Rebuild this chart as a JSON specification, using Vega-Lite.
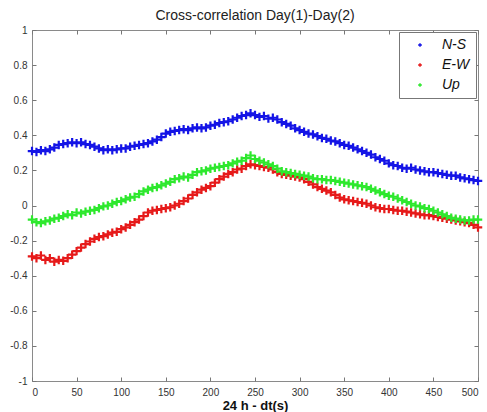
{
  "$schema": "https://vega.github.io/schema/vega-lite/v6.json",
  "width": 446,
  "height": 351,
  "autosize": {"type": "none"},
  "padding": {"left": 32, "top": 30, "right": 9, "bottom": 31},
  "background": "white",
  "title": {"text": "Cross-correlation Day(1)-Day(2)", "fontSize": 14, "fontWeight": "normal", "font": "Liberation Sans", "color": "#222", "offset": 2, "anchor": "middle"},
  "config": {"view": {"stroke": "#8a8a8a", "strokeWidth": 1}, "font": "Liberation Sans"},
  "data": {"values": [
    {"x": 0, "ns": 0.31, "ew": -0.29, "up": -0.08},
    {"x": 5, "ns": 0.305, "ew": -0.3, "up": -0.095},
    {"x": 10, "ns": 0.315, "ew": -0.285, "up": -0.1},
    {"x": 15, "ns": 0.31, "ew": -0.31, "up": -0.09},
    {"x": 20, "ns": 0.32, "ew": -0.3, "up": -0.085},
    {"x": 25, "ns": 0.33, "ew": -0.32, "up": -0.075},
    {"x": 30, "ns": 0.345, "ew": -0.31, "up": -0.07},
    {"x": 35, "ns": 0.35, "ew": -0.315, "up": -0.06},
    {"x": 40, "ns": 0.355, "ew": -0.3, "up": -0.05},
    {"x": 45, "ns": 0.36, "ew": -0.28, "up": -0.055},
    {"x": 50, "ns": 0.355, "ew": -0.26, "up": -0.04},
    {"x": 55, "ns": 0.36, "ew": -0.24, "up": -0.045},
    {"x": 60, "ns": 0.35, "ew": -0.22, "up": -0.035},
    {"x": 65, "ns": 0.345, "ew": -0.205, "up": -0.03},
    {"x": 70, "ns": 0.335, "ew": -0.19, "up": -0.025},
    {"x": 75, "ns": 0.325, "ew": -0.18, "up": -0.015},
    {"x": 80, "ns": 0.315, "ew": -0.175, "up": -0.005},
    {"x": 85, "ns": 0.32, "ew": -0.165, "up": 0.0},
    {"x": 90, "ns": 0.315, "ew": -0.155, "up": 0.01},
    {"x": 95, "ns": 0.32, "ew": -0.15, "up": 0.02},
    {"x": 100, "ns": 0.325, "ew": -0.135, "up": 0.025},
    {"x": 105, "ns": 0.325, "ew": -0.125, "up": 0.035},
    {"x": 110, "ns": 0.335, "ew": -0.11, "up": 0.045},
    {"x": 115, "ns": 0.34, "ew": -0.095, "up": 0.05},
    {"x": 120, "ns": 0.345, "ew": -0.08, "up": 0.065},
    {"x": 125, "ns": 0.35, "ew": -0.06, "up": 0.08},
    {"x": 130, "ns": 0.355, "ew": -0.04, "up": 0.09},
    {"x": 135, "ns": 0.365, "ew": -0.03, "up": 0.1},
    {"x": 140, "ns": 0.375, "ew": -0.025, "up": 0.105},
    {"x": 145, "ns": 0.39, "ew": -0.02, "up": 0.115},
    {"x": 150, "ns": 0.41, "ew": -0.015, "up": 0.125},
    {"x": 155, "ns": 0.42, "ew": -0.01, "up": 0.135},
    {"x": 160, "ns": 0.425, "ew": 0.0, "up": 0.15},
    {"x": 165, "ns": 0.43, "ew": 0.01, "up": 0.155},
    {"x": 170, "ns": 0.435, "ew": 0.025, "up": 0.165},
    {"x": 175, "ns": 0.43, "ew": 0.04, "up": 0.16},
    {"x": 180, "ns": 0.44, "ew": 0.06, "up": 0.175},
    {"x": 185, "ns": 0.445, "ew": 0.075, "up": 0.19},
    {"x": 190, "ns": 0.44, "ew": 0.09, "up": 0.195},
    {"x": 195, "ns": 0.445, "ew": 0.1, "up": 0.2},
    {"x": 200, "ns": 0.455, "ew": 0.11, "up": 0.21},
    {"x": 205, "ns": 0.46, "ew": 0.13, "up": 0.215},
    {"x": 210, "ns": 0.47, "ew": 0.15, "up": 0.22},
    {"x": 215, "ns": 0.475, "ew": 0.165, "up": 0.225},
    {"x": 220, "ns": 0.48, "ew": 0.18, "up": 0.23},
    {"x": 225, "ns": 0.49, "ew": 0.19, "up": 0.24},
    {"x": 230, "ns": 0.5, "ew": 0.205, "up": 0.25},
    {"x": 235, "ns": 0.51, "ew": 0.21, "up": 0.255},
    {"x": 240, "ns": 0.515, "ew": 0.225, "up": 0.27},
    {"x": 245, "ns": 0.525, "ew": 0.235, "up": 0.285},
    {"x": 250, "ns": 0.515, "ew": 0.23, "up": 0.265},
    {"x": 255, "ns": 0.505, "ew": 0.225, "up": 0.255},
    {"x": 260, "ns": 0.51, "ew": 0.22, "up": 0.245},
    {"x": 265, "ns": 0.495, "ew": 0.215, "up": 0.235},
    {"x": 270, "ns": 0.5, "ew": 0.205, "up": 0.225},
    {"x": 275, "ns": 0.49, "ew": 0.19, "up": 0.21},
    {"x": 280, "ns": 0.475, "ew": 0.18, "up": 0.195},
    {"x": 285, "ns": 0.465, "ew": 0.175, "up": 0.19},
    {"x": 290, "ns": 0.455, "ew": 0.17, "up": 0.185},
    {"x": 295, "ns": 0.44, "ew": 0.165, "up": 0.18},
    {"x": 300, "ns": 0.43, "ew": 0.16, "up": 0.175},
    {"x": 305, "ns": 0.42, "ew": 0.15, "up": 0.17},
    {"x": 310, "ns": 0.41, "ew": 0.135, "up": 0.165},
    {"x": 315, "ns": 0.405, "ew": 0.12, "up": 0.155},
    {"x": 320, "ns": 0.395, "ew": 0.105, "up": 0.15},
    {"x": 325, "ns": 0.385, "ew": 0.095, "up": 0.15},
    {"x": 330, "ns": 0.38, "ew": 0.085, "up": 0.145},
    {"x": 335, "ns": 0.37, "ew": 0.075, "up": 0.145},
    {"x": 340, "ns": 0.365, "ew": 0.06, "up": 0.14},
    {"x": 345, "ns": 0.355, "ew": 0.045, "up": 0.135},
    {"x": 350, "ns": 0.345, "ew": 0.035, "up": 0.13},
    {"x": 355, "ns": 0.34, "ew": 0.03, "up": 0.125},
    {"x": 360, "ns": 0.33, "ew": 0.025, "up": 0.12},
    {"x": 365, "ns": 0.32, "ew": 0.02, "up": 0.115},
    {"x": 370, "ns": 0.31, "ew": 0.015, "up": 0.11},
    {"x": 375, "ns": 0.3, "ew": 0.01, "up": 0.105},
    {"x": 380, "ns": 0.29, "ew": 0.0, "up": 0.095},
    {"x": 385, "ns": 0.275, "ew": -0.01, "up": 0.085},
    {"x": 390, "ns": 0.265, "ew": -0.015, "up": 0.075},
    {"x": 395, "ns": 0.255, "ew": -0.02, "up": 0.065},
    {"x": 400, "ns": 0.24, "ew": -0.02, "up": 0.055},
    {"x": 405, "ns": 0.23, "ew": -0.025, "up": 0.05},
    {"x": 410, "ns": 0.225, "ew": -0.03, "up": 0.04},
    {"x": 415, "ns": 0.215, "ew": -0.03, "up": 0.03},
    {"x": 420, "ns": 0.21, "ew": -0.035, "up": 0.02},
    {"x": 425, "ns": 0.215, "ew": -0.04, "up": 0.01},
    {"x": 430, "ns": 0.205, "ew": -0.045, "up": 0.0},
    {"x": 435, "ns": 0.2, "ew": -0.05, "up": -0.005},
    {"x": 440, "ns": 0.195, "ew": -0.055, "up": -0.015},
    {"x": 445, "ns": 0.19, "ew": -0.055, "up": -0.02},
    {"x": 450, "ns": 0.19, "ew": -0.06, "up": -0.03},
    {"x": 455, "ns": 0.185, "ew": -0.065, "up": -0.04},
    {"x": 460, "ns": 0.18, "ew": -0.07, "up": -0.05},
    {"x": 465, "ns": 0.175, "ew": -0.075, "up": -0.06},
    {"x": 470, "ns": 0.17, "ew": -0.08, "up": -0.07},
    {"x": 475, "ns": 0.17, "ew": -0.085, "up": -0.075},
    {"x": 480, "ns": 0.16, "ew": -0.09, "up": -0.08},
    {"x": 485, "ns": 0.155, "ew": -0.095, "up": -0.085},
    {"x": 490, "ns": 0.15, "ew": -0.1, "up": -0.085},
    {"x": 495, "ns": 0.145, "ew": -0.11, "up": -0.08},
    {"x": 500, "ns": 0.14, "ew": -0.125, "up": -0.08}
  ]},
  "transform": [{"fold": ["ns", "ew", "up"], "as": ["series", "value"]}],
  "layer": [
    {
      "mark": {"type": "point", "shape": "M-1,0H1M0,-1V1", "filled": false, "size": 72, "strokeWidth": 2.2, "opacity": 1},
      "encoding": {
        "x": {"field": "x", "type": "quantitative", "scale": {"domain": [0, 500], "nice": false},
          "axis": {"orient": "bottom", "values": [0, 50, 100, 150, 200, 250, 300, 350, 400, 450, 500], "grid": false, "domain": false, "tickSize": -4, "tickColor": "#777", "labelFontSize": 10, "labelColor": "#333", "labelPadding": 10, "labelFont": "Liberation Sans", "title": "24 h - dt(s)", "titleFontSize": 13, "titleFontWeight": "bold", "titleColor": "#111", "titlePadding": 2, "titleFont": "Liberation Sans"}},
        "y": {"field": "value", "type": "quantitative", "scale": {"domain": [-1, 1], "nice": false},
          "axis": {"orient": "left", "values": [-1, -0.8, -0.6, -0.4, -0.2, 0, 0.2, 0.4, 0.6, 0.8, 1], "labelExpr": "'' + datum.value", "grid": false, "domain": false, "tickSize": -4, "tickColor": "#777", "labelFontSize": 10, "labelColor": "#333", "labelPadding": 9, "labelFont": "Liberation Sans", "title": null}},
        "color": {"field": "series", "type": "nominal",
          "scale": {"domain": ["ns", "ew", "up"], "range": ["#1414e6", "#e61a1a", "#2ee82e"]},
          "legend": {"orient": "top-right", "offset": 2, "title": null, "labelExpr": "datum.value == 'ns' ? 'N-S' : datum.value == 'ew' ? 'E-W' : 'Up'", "labelFontSize": 14, "labelFontStyle": "italic", "labelFont": "Liberation Sans", "labelColor": "#111", "symbolType": "M-1,0H1M0,-1V1", "symbolSize": 14, "symbolStrokeWidth": 1.5, "strokeColor": "#777", "fillColor": "white", "padding": 6, "rowPadding": 6, "labelOffset": 15, "symbolOffset": 8}},
        "order": {"field": "series"}
      }
    },
    {
      "mark": {"type": "point", "opacity": 0},
      "encoding": {
        "x": {"field": "x", "type": "quantitative", "axis": {"orient": "top", "values": [0, 50, 100, 150, 200, 250, 300, 350, 400, 450, 500], "labels": false, "grid": false, "domain": false, "tickSize": -4, "tickColor": "#777", "title": null}},
        "y": {"field": "value", "type": "quantitative", "axis": {"orient": "right", "values": [-1, -0.8, -0.6, -0.4, -0.2, 0, 0.2, 0.4, 0.6, 0.8, 1], "labels": false, "grid": false, "domain": false, "tickSize": -4, "tickColor": "#777", "title": null}}
      }
    }
  ],
  "resolve": {"axis": {"x": "independent", "y": "independent"}}
}
